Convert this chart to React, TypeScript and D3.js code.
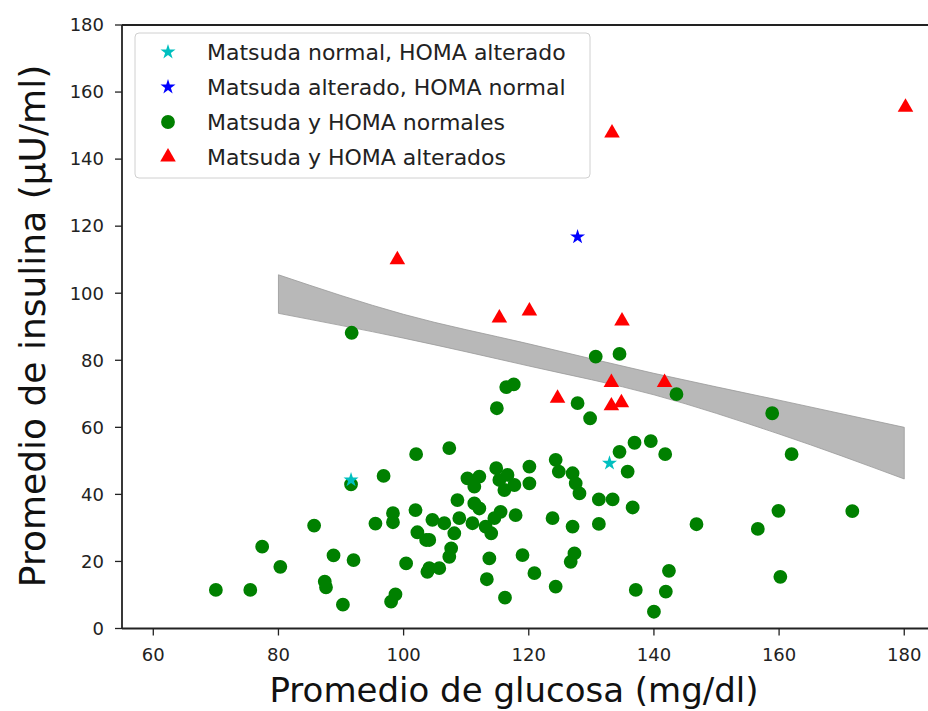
import React from 'react';
import * as d3 from 'd3';

const width = 928;
const height = 711;

// Matsuda y HOMA normales (green circles): glucose, insulin
const normalesGlucosa = [
  91.7, 102.0, 96.8, 91.6, 85.7, 95.5, 98.3, 98.3, 101.9, 102.2, 103.6, 77.4, 80.3, 88.8, 92.0,
  100.4, 103.8, 70.0, 75.5, 87.4, 87.6, 90.3, 98.7, 98.0,
  130.7, 134.5, 116.4, 117.6, 114.9, 127.8, 129.8, 107.3,
  110.2, 112.1, 111.3, 114.8, 115.3, 116.6, 116.1, 117.7, 120.1, 120.1,
  124.3, 124.8, 127.0, 127.5, 128.1, 108.6, 111.3, 112.1, 115.5, 117.9,
  104.6, 106.5, 108.9, 111.0, 113.1, 114.5, 114.0, 108.1, 104.1, 107.6, 107.3,
  123.8, 127.0, 131.2, 133.4, 131.2, 136.6, 134.5, 136.9, 139.5, 135.8,
  113.7, 119.0, 127.3, 126.7, 104.1, 105.7, 120.9, 113.3, 116.2, 124.3,
  137.1, 143.6, 158.9, 162.0, 141.8, 146.8, 156.6, 159.9, 171.7, 160.2, 142.4, 141.9, 140.0,
];
const normalesInsulina = [
  88.2, 52.0, 45.5, 43.0, 30.7, 31.3, 34.4, 31.7, 35.3, 28.7, 26.4, 24.4, 18.4, 21.8, 20.4,
  19.4, 16.9, 11.5, 11.5, 14.0, 12.3, 7.1, 10.2, 8.0,
  81.1, 81.9, 72.0, 72.8, 65.7, 67.2, 62.7, 53.8,
  44.8, 45.3, 42.3, 47.8, 44.3, 45.8, 41.3, 42.8, 48.3, 43.3,
  50.3, 46.8, 46.3, 43.3, 40.3, 38.3, 37.3, 35.8, 34.8, 33.8,
  32.4, 31.4, 32.9, 31.4, 30.4, 32.9, 28.4, 28.4, 26.4, 23.9, 21.4,
  32.9, 30.4, 31.2, 38.5, 38.5, 36.1, 52.7, 55.4, 55.9, 46.8,
  20.9, 21.9, 22.4, 19.9, 18.0, 18.0, 16.5, 14.7, 9.2, 12.5,
  11.5, 69.9, 64.2, 52.0, 52.0, 31.1, 29.7, 35.1, 35.0, 15.4, 17.2, 11.0, 5.0,
];

// Matsuda y HOMA alterados (red triangles)
const alteradosGlucosa = [99.0, 133.3, 180.2, 115.3, 120.1, 134.9, 133.2, 141.7, 124.6, 133.2, 134.8];
const alteradosInsulina = [110.0, 147.8, 155.5, 92.6, 94.7, 91.7, 73.4, 73.4, 68.7, 66.4, 67.3];

// Matsuda normal, HOMA alterado (cyan stars)
const homaAltGlucosa = [91.6, 132.9];
const homaAltInsulina = [44.3, 49.3];

// Matsuda alterado, HOMA normal (blue star)
const matsudaAltGlucosa = [127.8];
const matsudaAltInsulina = [116.8];

// regression confidence band
const bandX = [80, 100, 120, 140, 160, 180];
const bandLow = [94.0, 86.6, 78.3, 69.7, 58.0, 44.6];
const bandHigh = [105.5, 93.7, 84.9, 76.1, 68.1, 60.0];

const xTicks = [60, 80, 100, 120, 140, 160, 180];
const yTicks = [0, 20, 40, 60, 80, 100, 120, 140, 160, 180];

const legendLabels = [
  'Matsuda normal, HOMA alterado',
  'Matsuda alterado, HOMA normal',
  'Matsuda y HOMA normales',
  'Matsuda y HOMA alterados',
];

const left = 122;
const top = 25;
const bottom = 628.5;

const x = d3.scaleLinear().domain([55, 185]).range([left, left + 130 * 6.258]);
const y = d3.scaleLinear().domain([0, 180]).range([bottom, top]);

const font = 'DejaVu Sans, sans-serif';

const circle = d3.symbol().type(d3.symbolCircle).size(150)() as string;
const triangle = d3.symbol().type(d3.symbolTriangle).size(105)() as string;
const star = d3.symbol().type(d3.symbolStar).size(70)() as string;

const bandArea = d3
  .area<number>()
  .x((_, i) => x(bandX[i]))
  .y0((_, i) => y(bandLow[i]))
  .y1((_, i) => y(bandHigh[i]))
  .curve(d3.curveMonotoneX);

const legendMarks = [
  { path: star, color: '#00bfbf' },
  { path: star, color: '#0000ff' },
  { path: circle, color: '#008000' },
  { path: triangle, color: '#ff0000' },
];

export default function App() {
  const axisColor = '#222';
  return (
    <svg
      width={width}
      height={height}
      style={{ position: 'absolute', left: 0, top: 0, background: '#fff' }}
    >
      <defs>
        <clipPath id="plot">
          <rect x={left} y={top} width={width - left} height={bottom - top} />
        </clipPath>
      </defs>

      <g clipPath="url(#plot)">
        <path d={bandArea(bandX) as string} fill="#b8b8b8" stroke="#999" strokeWidth={0.8} />

        {normalesGlucosa.map((g, i) => (
          <path
            key={'n' + i}
            d={circle}
            transform={`translate(${x(g)},${y(normalesInsulina[i])})`}
            fill="#008000"
          />
        ))}
        {alteradosGlucosa.map((g, i) => (
          <path
            key={'a' + i}
            d={triangle}
            transform={`translate(${x(g)},${y(alteradosInsulina[i])})`}
            fill="#ff0000"
          />
        ))}
        {homaAltGlucosa.map((g, i) => (
          <path
            key={'h' + i}
            d={star}
            transform={`translate(${x(g)},${y(homaAltInsulina[i])})`}
            fill="#00bfbf"
          />
        ))}
        {matsudaAltGlucosa.map((g, i) => (
          <path
            key={'m' + i}
            d={star}
            transform={`translate(${x(g)},${y(matsudaAltInsulina[i])})`}
            fill="#0000ff"
          />
        ))}
      </g>

      {/* spines */}
      <line x1={left} x2={width} y1={top} y2={top} stroke={axisColor} strokeWidth={1.8} />
      <line x1={left} x2={width} y1={bottom} y2={bottom} stroke={axisColor} strokeWidth={1.8} />
      <line x1={left} x2={left} y1={top} y2={bottom} stroke={axisColor} strokeWidth={1.8} />

      {/* x axis */}
      {xTicks.map((t) => (
        <g key={'x' + t} transform={`translate(${x(t)},${bottom})`}>
          <line y1={0} y2={7} stroke={axisColor} strokeWidth={1.3} />
          <text y={32} textAnchor="middle" fontFamily={font} fontSize={18} fill="#222">
            {t}
          </text>
        </g>
      ))}

      {/* y axis */}
      {yTicks.map((t) => (
        <g key={'y' + t} transform={`translate(${left},${y(t)})`}>
          <line x1={0} x2={-7} stroke={axisColor} strokeWidth={1.3} />
          <text x={-18} dy="0.35em" textAnchor="end" fontFamily={font} fontSize={18} fill="#222">
            {t}
          </text>
        </g>
      ))}

      <text x={514} y={702} textAnchor="middle" fontFamily={font} fontSize={34} fill="#111">
        Promedio de glucosa (mg/dl)
      </text>
      <text
        transform={`translate(45,326) rotate(-90)`}
        textAnchor="middle"
        fontFamily={font}
        fontSize={36}
        fill="#111"
      >
        Promedio de insulina (µU/ml)
      </text>

      {/* legend */}
      <g>
        <rect
          x={135}
          y={33}
          width={455}
          height={145}
          rx={4}
          fill="#fff"
          fillOpacity={0.85}
          stroke="#d0d0d0"
          strokeWidth={1}
        />
        {legendLabels.map((label, i) => (
          <g key={label} transform={`translate(0,${52 + i * 35})`}>
            <path d={legendMarks[i].path} transform="translate(168,0)" fill={legendMarks[i].color} />
            <text x={207} dy="0.35em" fontFamily={font} fontSize={22} fill="#222">
              {label}
            </text>
          </g>
        ))}
      </g>
    </svg>
  );
}
